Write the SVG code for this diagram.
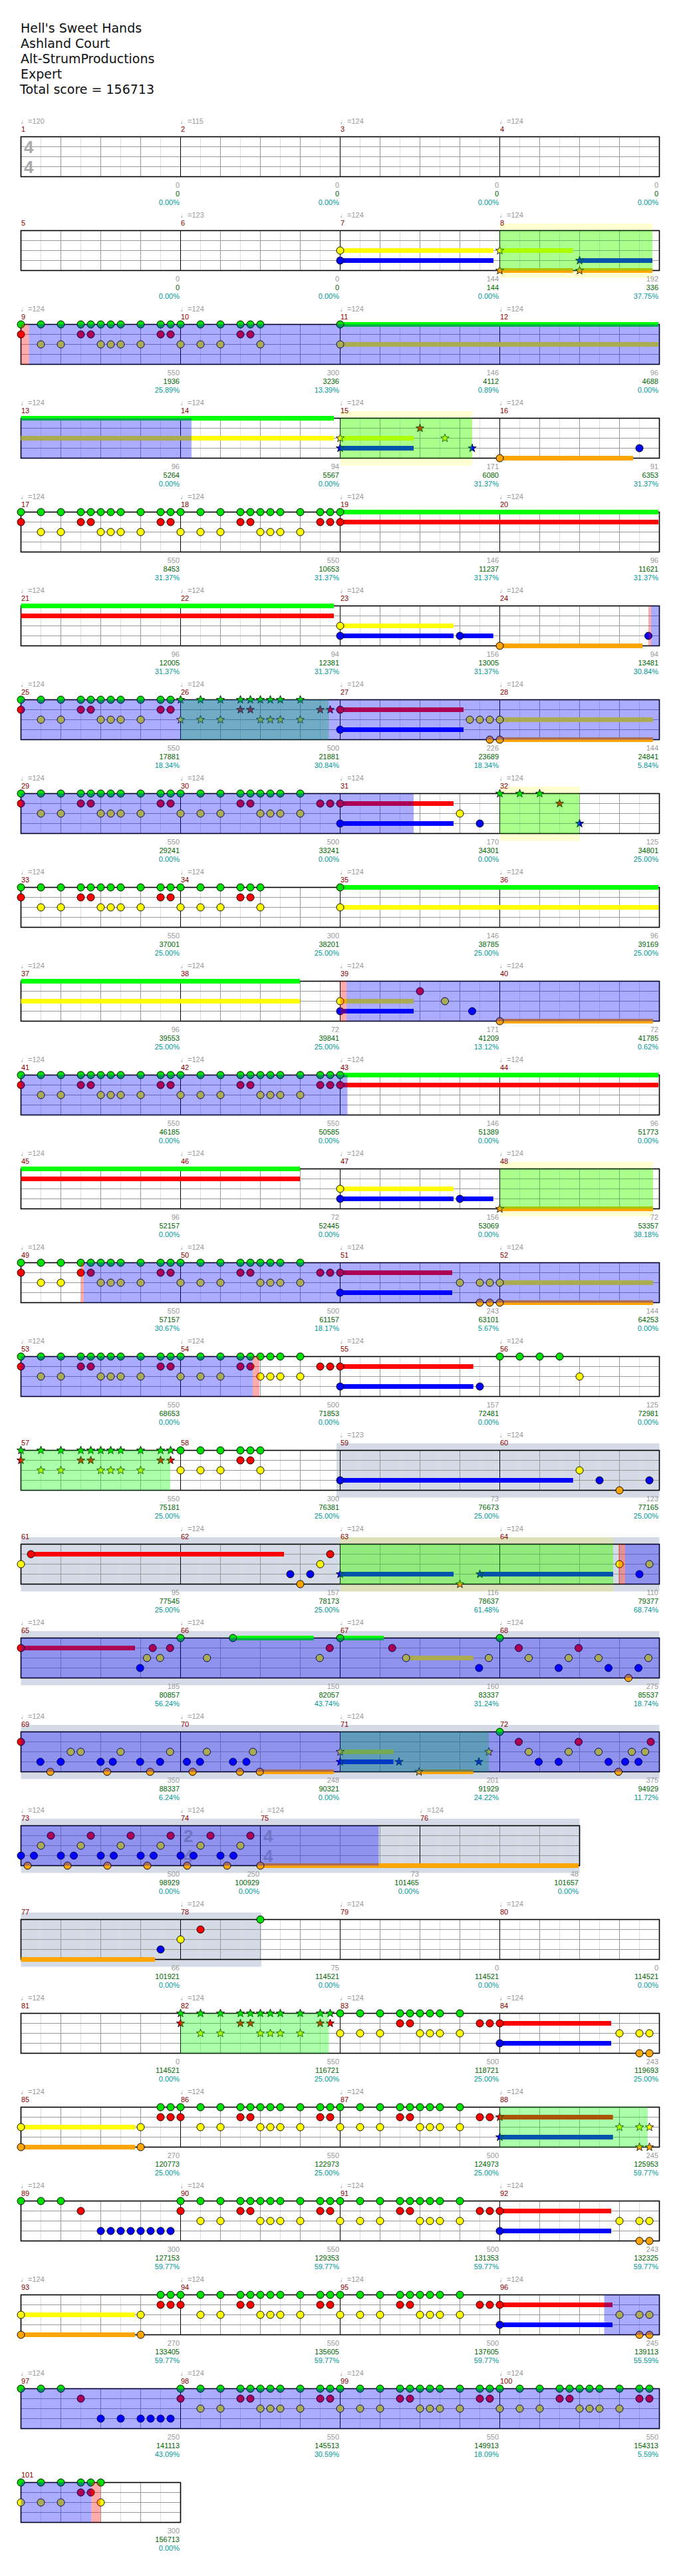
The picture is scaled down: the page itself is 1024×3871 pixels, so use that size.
<svg xmlns="http://www.w3.org/2000/svg" width="1024" height="3871" viewBox="0 0 1024 3871">
<style>
text{font-family:"Liberation Sans","DejaVu Sans",sans-serif;font-size:11px}
.ti{font:19px "DejaVu Sans",sans-serif;fill:#111}
.tp{fill:#999}
.mn{fill:#800}
.n1,.n2,.n3{text-anchor:end}
.n1{fill:#999}.n2{fill:#060}.n3{fill:#099}
.ts{font-size:26px;font-weight:bold;fill:#aaa}
.ml{stroke:#000;stroke-width:1;fill:none}
.bd{fill:none;stroke:#000;stroke-width:1.6}
circle{stroke:#000;stroke-width:1}
.g{fill:#00e000}.r{fill:#f00}.y{fill:#ff0}.b{fill:#00f}.o{fill:#ffa500}
.bG{fill:#0f0}.bR{fill:#f00}.bY{fill:#ff0}.bB{fill:#00f}.bO{fill:#ffa500}
.od{fill:#00f;fill-opacity:.33}.sp{fill:#0f0;fill-opacity:.33}.ac{fill:#f00;fill-opacity:.33}
.yb{fill:#ff0;fill-opacity:.18}.gb{fill:#d5dbe6}
</style>
<defs>
<path id="hl" d="M61.5 0V60M121.5 0V60M181.5 0V60M241.5 0V60M301.5 0V60M361.5 0V60M421.5 0V60M481.5 0V60M541.5 0V60M601.5 0V60M661.5 0V60M721.5 0V60M781.5 0V60M841.5 0V60M901.5 0V60M961.5 0V60" stroke="#ddd" fill="none"/>
<path id="bl" d="M91.5 0V60M151.5 0V60M211.5 0V60M331.5 0V60M391.5 0V60M451.5 0V60M571.5 0V60M631.5 0V60M691.5 0V60M811.5 0V60M871.5 0V60M931.5 0V60M31.5 15H991.5M31.5 30H991.5M31.5 45H991.5" stroke="#999" fill="none"/>
<path id="hl19" d="M61.5 0V60M121.5 0V60M181.5 0V60M241.5 0V60M301.5 0V60M361.5 0V60M421.5 0V60M481.5 0V60M541.5 0V60M601.5 0V60M661.5 0V60M721.5 0V60M781.5 0V60M841.5 0V60" stroke="#ddd" fill="none"/>
<path id="bl19" d="M91.5 0V60M151.5 0V60M211.5 0V60M331.5 0V60M451.5 0V60M511.5 0V60M571.5 0V60M691.5 0V60M751.5 0V60M811.5 0V60M31.5 15H871.5M31.5 30H871.5M31.5 45H871.5" stroke="#999" fill="none"/>
<path id="st" d="M0-6.5L1.59-2.18 6.18-2.01 2.57.83 3.82 5.26 0 2.7-3.82 5.26-2.57.83-6.18-2.01-1.59-2.18Z" stroke="#000" stroke-width=".8"/>
<g id="fGR" stroke="#000"><circle r="5.5" fill="#00e000"/><circle cy="15" r="5.5" fill="#f00"/></g>
<g id="fGY" stroke="#000"><circle r="5.5" fill="#00e000"/><circle cy="30" r="5.5" fill="#ff0"/></g>
<g id="core" stroke="#000">
<g fill="#00e000"><circle cx="30" r="5.5"/><circle cx="60" r="5.5"/><circle cx="90" r="5.5"/><circle cx="105" r="5.5"/><circle cx="120" r="5.5"/><circle cx="135" r="5.5"/><circle cx="150" r="5.5"/><circle cx="180" r="5.5"/></g>
<g fill="#f00"><circle cx="90" cy="15" r="5.5"/><circle cx="105" cy="15" r="5.5"/></g>
<g fill="#ff0"><circle cx="30" cy="30" r="5.5"/><circle cx="60" cy="30" r="5.5"/><circle cx="120" cy="30" r="5.5"/><circle cx="135" cy="30" r="5.5"/><circle cx="150" cy="30" r="5.5"/><circle cx="180" cy="30" r="5.5"/></g>
</g>
<g id="trunc" stroke="#000">
<g fill="#00e000"><circle cx="30" r="5.5"/><circle cx="60" r="5.5"/><circle cx="90" r="5.5"/><circle cx="105" r="5.5"/><circle cx="120" r="5.5"/></g>
<g fill="#f00"><circle cx="90" cy="15" r="5.5"/><circle cx="105" cy="15" r="5.5"/></g>
<g fill="#ff0"><circle cx="30" cy="30" r="5.5"/><circle cx="60" cy="30" r="5.5"/><circle cx="120" cy="30" r="5.5"/></g>
</g>
<g id="eGR" stroke="#000"><circle cx="210" r="5.5" fill="#00e000"/><circle cx="225" r="5.5" fill="#00e000"/><circle cx="210" cy="15" r="5.5" fill="#f00"/><circle cx="225" cy="15" r="5.5" fill="#f00"/></g>
<g id="eR" stroke="#000"><circle cx="210" cy="15" r="5.5" fill="#f00"/><circle cx="225" cy="15" r="5.5" fill="#f00"/></g>
<g id="sfGR"><use href="#st" fill="#00e000"/><use href="#st" y="15" fill="#f00"/></g>
<g id="sfGY"><use href="#st" fill="#00e000"/><use href="#st" y="30" fill="#ff0"/></g>
<g id="score">
<g fill="#00e000"><use href="#st" x="30"/><use href="#st" x="60"/><use href="#st" x="90"/><use href="#st" x="105"/><use href="#st" x="120"/><use href="#st" x="135"/><use href="#st" x="150"/><use href="#st" x="180"/></g>
<g fill="#f00"><use href="#st" x="90" y="15"/><use href="#st" x="105" y="15"/></g>
<g fill="#ff0"><use href="#st" x="30" y="30"/><use href="#st" x="60" y="30"/><use href="#st" x="120" y="30"/><use href="#st" x="135" y="30"/><use href="#st" x="150" y="30"/><use href="#st" x="180" y="30"/></g>
</g>
<g id="seGR"><use href="#st" x="210" fill="#00e000"/><use href="#st" x="225" fill="#00e000"/><use href="#st" x="210" y="15" fill="#f00"/><use href="#st" x="225" y="15" fill="#f00"/></g>
<g id="seR"><use href="#st" x="210" y="15" fill="#f00"/><use href="#st" x="225" y="15" fill="#f00"/></g>
</defs>
<rect width="1024" height="3871" fill="#fff"/>
<g id="title">
<text class="ti" x="31" y="49">Hell's Sweet Hands</text>
<text class="ti" x="31" y="72">Ashland Court</text>
<text class="ti" x="31" y="95">Alt-StrumProductions</text>
<text class="ti" x="31" y="118">Expert</text>
<text class="ti" x="30" y="141">Total score = 156713</text>
</g>
<g id="connectors"/>

<g id="row1" transform="translate(0,205.5)">
<use href="#hl"/><use href="#bl"/><path class="ml" d="M271.5 0V60M511.5 0V60M751.5 0V60"/><rect class="bd" x="31.5" width="960" height="60"/>
<text class="ts" x="36" y="24.6">4</text><text class="ts" x="36" y="54.1">4</text>
<text class="tp" y="-20"><tspan x="31">♩=120</tspan><tspan x="271">♩=115</tspan><tspan x="511">♩=124</tspan><tspan x="751">♩=124</tspan></text>
<text class="mn" y="-7.5"><tspan x="32">1</tspan><tspan x="272">2</tspan><tspan x="512">3</tspan><tspan x="752">4</tspan></text>
<text class="n1" y="76.5"><tspan x="270">0</tspan><tspan x="510">0</tspan><tspan x="750">0</tspan><tspan x="990">0</tspan></text>
<text class="n2" y="89.5"><tspan x="270">0</tspan><tspan x="510">0</tspan><tspan x="750">0</tspan><tspan x="990">0</tspan></text>
<text class="n3" y="102.5"><tspan x="270">0.00%</tspan><tspan x="510">0.00%</tspan><tspan x="750">0.00%</tspan><tspan x="990">0.00%</tspan></text>
</g>

<g id="row2" transform="translate(0,346.5)">
<rect class="yb" x="751.5" y="-10.5" width="229.5" height="81.5"/>
<use href="#hl"/><use href="#bl"/><path class="ml" d="M271.5 0V60M511.5 0V60M751.5 0V60"/><rect class="bd" x="31.5" width="960" height="60"/>
<rect class="bY" x="511.5" y="26.5" width="230.5" height="7"/><rect class="bB" x="511.5" y="41.5" width="230.5" height="7"/>
<rect class="bY" x="751.5" y="26.5" width="110.2" height="7"/><rect class="bO" x="751.5" y="56.5" width="110.2" height="7"/>
<rect class="bB" x="871.5" y="41.5" width="109.5" height="7"/><rect class="bO" x="871.5" y="56.5" width="109.5" height="7"/>
<circle class="y" cx="511.5" cy="30" r="5.5"/><circle class="b" cx="511.5" cy="45" r="5.5"/>
<use href="#st" class="y" x="751.5" y="30"/><use href="#st" class="o" x="751.5" y="60"/><use href="#st" class="b" x="871.5" y="45"/><use href="#st" class="o" x="871.5" y="60"/>
<rect class="sp" x="751.5" width="229.5" height="60"/>
<text class="tp" y="-20"><tspan x="271">♩=123</tspan><tspan x="511">♩=124</tspan><tspan x="751">♩=124</tspan></text>
<text class="mn" y="-7.5"><tspan x="32">5</tspan><tspan x="272">6</tspan><tspan x="512">7</tspan><tspan x="752">8</tspan></text>
<text class="n1" y="76.5"><tspan x="270">0</tspan><tspan x="510">0</tspan><tspan x="750">144</tspan><tspan x="990">192</tspan></text>
<text class="n2" y="89.5"><tspan x="270">0</tspan><tspan x="510">0</tspan><tspan x="750">144</tspan><tspan x="990">336</tspan></text>
<text class="n3" y="102.5"><tspan x="270">0.00%</tspan><tspan x="510">0.00%</tspan><tspan x="750">0.00%</tspan><tspan x="990">37.75%</tspan></text>
</g>

<g id="row3" transform="translate(0,487.5)">
<use href="#hl"/><use href="#bl"/><path class="ml" d="M271.5 0V60M511.5 0V60M751.5 0V60"/><rect class="bd" x="31.5" width="960" height="60"/>
<rect class="bG" x="511.5" y="-3.5" width="478.5" height="7"/><rect class="bY" x="511.5" y="26.5" width="478.5" height="7"/>
<use href="#fGR" x="31.5"/><use href="#core" x="31.5"/><use href="#eGR" x="31.5"/>
<use href="#fGY" x="271.5"/><use href="#trunc" x="271.5"/>
<circle class="g" cx="511.5" cy="0" r="5.5"/><circle class="y" cx="511.5" cy="30" r="5.5"/>
<rect class="ac" x="31.5" width="12" height="60"/><rect class="od" x="43.5" width="948" height="60"/>
<text class="tp" y="-20"><tspan x="31">♩=124</tspan><tspan x="271">♩=124</tspan><tspan x="511">♩=124</tspan><tspan x="751">♩=124</tspan></text>
<text class="mn" y="-7.5"><tspan x="32">9</tspan><tspan x="272">10</tspan><tspan x="512">11</tspan><tspan x="752">12</tspan></text>
<text class="n1" y="76.5"><tspan x="270">550</tspan><tspan x="510">300</tspan><tspan x="750">146</tspan><tspan x="990">96</tspan></text>
<text class="n2" y="89.5"><tspan x="270">1936</tspan><tspan x="510">3236</tspan><tspan x="750">4112</tspan><tspan x="990">4688</tspan></text>
<text class="n3" y="102.5"><tspan x="270">25.89%</tspan><tspan x="510">13.39%</tspan><tspan x="750">0.89%</tspan><tspan x="990">0.00%</tspan></text>
</g>

<g id="row4" transform="translate(0,628.5)">
<rect class="yb" x="511.5" y="-10.5" width="198.5" height="81.5"/>
<use href="#hl"/><use href="#bl"/><path class="ml" d="M271.5 0V60M511.5 0V60M751.5 0V60"/><rect class="bd" x="31.5" width="960" height="60"/>
<rect class="bG" x="31.5" y="-3.5" width="470.5" height="7"/><rect class="bY" x="31.5" y="26.5" width="470.5" height="7"/>
<rect class="bY" x="511.5" y="26.5" width="110.5" height="7"/><rect class="bB" x="511.5" y="41.5" width="110.5" height="7"/>
<rect class="bO" x="751.5" y="56.5" width="200.5" height="7"/>
<use href="#st" class="y" x="511.5" y="30"/><use href="#st" class="b" x="511.5" y="45"/><use href="#st" class="r" x="631.5" y="15"/><use href="#st" class="y" x="669" y="30"/><use href="#st" class="b" x="710" y="45"/>
<circle class="o" cx="751.5" cy="60" r="5.5"/><circle class="b" cx="961.5" cy="45" r="5.5"/>
<rect class="od" x="31.5" width="256.5" height="60"/><rect class="sp" x="511.5" width="198.5" height="60"/>
<text class="tp" y="-20"><tspan x="31">♩=124</tspan><tspan x="271">♩=124</tspan><tspan x="511">♩=124</tspan><tspan x="751">♩=124</tspan></text>
<text class="mn" y="-7.5"><tspan x="32">13</tspan><tspan x="272">14</tspan><tspan x="512">15</tspan><tspan x="752">16</tspan></text>
<text class="n1" y="76.5"><tspan x="270">96</tspan><tspan x="510">94</tspan><tspan x="750">171</tspan><tspan x="990">91</tspan></text>
<text class="n2" y="89.5"><tspan x="270">5264</tspan><tspan x="510">5567</tspan><tspan x="750">6080</tspan><tspan x="990">6353</tspan></text>
<text class="n3" y="102.5"><tspan x="270">0.00%</tspan><tspan x="510">0.00%</tspan><tspan x="750">31.37%</tspan><tspan x="990">31.37%</tspan></text>
</g>

<g id="row5" transform="translate(0,769.5)">
<use href="#hl"/><use href="#bl"/><path class="ml" d="M271.5 0V60M511.5 0V60M751.5 0V60"/><rect class="bd" x="31.5" width="960" height="60"/>
<rect class="bG" x="511.5" y="-3.5" width="478.5" height="7"/><rect class="bR" x="511.5" y="11.5" width="478.5" height="7"/>
<use href="#fGR" x="31.5"/><use href="#core" x="31.5"/><use href="#eGR" x="31.5"/>
<use href="#fGY" x="271.5"/><use href="#core" x="271.5"/><use href="#eGR" x="271.5"/>
<circle class="g" cx="511.5" cy="0" r="5.5"/><circle class="r" cx="511.5" cy="15" r="5.5"/>
<text class="tp" y="-20"><tspan x="31">♩=124</tspan><tspan x="271">♩=124</tspan><tspan x="511">♩=124</tspan><tspan x="751">♩=124</tspan></text>
<text class="mn" y="-7.5"><tspan x="32">17</tspan><tspan x="272">18</tspan><tspan x="512">19</tspan><tspan x="752">20</tspan></text>
<text class="n1" y="76.5"><tspan x="270">550</tspan><tspan x="510">550</tspan><tspan x="750">146</tspan><tspan x="990">96</tspan></text>
<text class="n2" y="89.5"><tspan x="270">8453</tspan><tspan x="510">10653</tspan><tspan x="750">11237</tspan><tspan x="990">11621</tspan></text>
<text class="n3" y="102.5"><tspan x="270">31.37%</tspan><tspan x="510">31.37%</tspan><tspan x="750">31.37%</tspan><tspan x="990">31.37%</tspan></text>
</g>

<g id="row6" transform="translate(0,910.5)">
<use href="#hl"/><use href="#bl"/><path class="ml" d="M271.5 0V60M511.5 0V60M751.5 0V60"/><rect class="bd" x="31.5" width="960" height="60"/>
<rect class="bG" x="31.5" y="-3.5" width="470.5" height="7"/><rect class="bR" x="31.5" y="11.5" width="470.5" height="7"/>
<rect class="bY" x="511.5" y="26.5" width="170.5" height="7"/><rect class="bB" x="511.5" y="41.5" width="170.5" height="7"/>
<rect class="bB" x="691.5" y="41.5" width="50.2" height="7"/><rect class="bO" x="751.5" y="56.5" width="214.5" height="7"/>
<circle class="y" cx="511.5" cy="30" r="5.5"/><circle class="b" cx="511.5" cy="45" r="5.5"/><circle class="b" cx="691.5" cy="45" r="5.5"/><circle class="o" cx="751.5" cy="60" r="5.5"/><circle class="b" cx="975" cy="45" r="5.5"/>
<rect class="ac" x="975" width="4" height="60"/><rect class="od" x="979" width="12.5" height="60"/>
<text class="tp" y="-20"><tspan x="31">♩=124</tspan><tspan x="271">♩=124</tspan><tspan x="511">♩=124</tspan><tspan x="751">♩=124</tspan></text>
<text class="mn" y="-7.5"><tspan x="32">21</tspan><tspan x="272">22</tspan><tspan x="512">23</tspan><tspan x="752">24</tspan></text>
<text class="n1" y="76.5"><tspan x="270">96</tspan><tspan x="510">94</tspan><tspan x="750">156</tspan><tspan x="990">94</tspan></text>
<text class="n2" y="89.5"><tspan x="270">12005</tspan><tspan x="510">12381</tspan><tspan x="750">13005</tspan><tspan x="990">13481</tspan></text>
<text class="n3" y="102.5"><tspan x="270">31.37%</tspan><tspan x="510">31.37%</tspan><tspan x="750">31.37%</tspan><tspan x="990">30.84%</tspan></text>
</g>

<g id="row7" transform="translate(0,1051.5)">
<use href="#hl"/><use href="#bl"/><path class="ml" d="M271.5 0V60M511.5 0V60M751.5 0V60"/><rect class="bd" x="31.5" width="960" height="60"/>
<rect class="bR" x="511.5" y="11.5" width="185.5" height="7"/><rect class="bB" x="511.5" y="41.5" width="185.5" height="7"/>
<rect class="bY" x="751.5" y="26.5" width="230.5" height="7"/><rect class="bO" x="751.5" y="56.5" width="230.5" height="7"/>
<use href="#fGR" x="31.5"/><use href="#core" x="31.5"/><use href="#eGR" x="31.5"/>
<use href="#sfGY" x="271.5"/><use href="#score" x="271.5"/><use href="#seR" x="271.5"/>
<circle class="r" cx="511.5" cy="15" r="5.5"/><circle class="b" cx="511.5" cy="45" r="5.5"/>
<circle class="y" cx="706.5" cy="30" r="5.5"/><circle class="y" cx="721.5" cy="30" r="5.5"/><circle class="y" cx="736.5" cy="30" r="5.5"/><circle class="y" cx="751.5" cy="30" r="5.5"/>
<circle class="o" cx="736.5" cy="60" r="5.5"/><circle class="o" cx="751.5" cy="60" r="5.5"/>
<rect class="sp" x="271.5" width="223" height="60"/><rect class="od" x="31.5" width="960" height="60"/>
<text class="tp" y="-20"><tspan x="31">♩=124</tspan><tspan x="271">♩=124</tspan><tspan x="511">♩=124</tspan><tspan x="751">♩=124</tspan></text>
<text class="mn" y="-7.5"><tspan x="32">25</tspan><tspan x="272">26</tspan><tspan x="512">27</tspan><tspan x="752">28</tspan></text>
<text class="n1" y="76.5"><tspan x="270">550</tspan><tspan x="510">500</tspan><tspan x="750">226</tspan><tspan x="990">144</tspan></text>
<text class="n2" y="89.5"><tspan x="270">17881</tspan><tspan x="510">21881</tspan><tspan x="750">23689</tspan><tspan x="990">24841</tspan></text>
<text class="n3" y="102.5"><tspan x="270">18.34%</tspan><tspan x="510">30.84%</tspan><tspan x="750">18.34%</tspan><tspan x="990">5.84%</tspan></text>
</g>

<g id="row8" transform="translate(0,1192.5)">
<rect class="yb" x="751.5" y="-10.5" width="120" height="81.5"/>
<use href="#hl"/><use href="#bl"/><path class="ml" d="M271.5 0V60M511.5 0V60M751.5 0V60"/><rect class="bd" x="31.5" width="960" height="60"/>
<rect class="bR" x="511.5" y="11.5" width="170.5" height="7"/><rect class="bB" x="511.5" y="41.5" width="170.5" height="7"/>
<use href="#fGR" x="31.5"/><use href="#core" x="31.5"/><use href="#eGR" x="31.5"/>
<use href="#fGY" x="271.5"/><use href="#core" x="271.5"/><use href="#eR" x="271.5"/>
<circle class="r" cx="511.5" cy="15" r="5.5"/><circle class="b" cx="511.5" cy="45" r="5.5"/><circle class="y" cx="691.5" cy="30" r="5.5"/><circle class="b" cx="721.5" cy="45" r="5.5"/>
<use href="#st" class="g" x="751.5" y="0"/><use href="#st" class="g" x="781.5" y="0"/><use href="#st" class="g" x="811.5" y="0"/><use href="#st" class="r" x="841.5" y="15"/><use href="#st" class="b" x="871.5" y="45"/>
<rect class="od" x="31.5" width="590.5" height="60"/><rect class="sp" x="751.5" width="120" height="60"/>
<text class="tp" y="-20"><tspan x="31">♩=124</tspan><tspan x="271">♩=124</tspan><tspan x="511">♩=124</tspan><tspan x="751">♩=124</tspan></text>
<text class="mn" y="-7.5"><tspan x="32">29</tspan><tspan x="272">30</tspan><tspan x="512">31</tspan><tspan x="752">32</tspan></text>
<text class="n1" y="76.5"><tspan x="270">550</tspan><tspan x="510">500</tspan><tspan x="750">170</tspan><tspan x="990">125</tspan></text>
<text class="n2" y="89.5"><tspan x="270">29241</tspan><tspan x="510">33241</tspan><tspan x="750">34301</tspan><tspan x="990">34801</tspan></text>
<text class="n3" y="102.5"><tspan x="270">0.00%</tspan><tspan x="510">0.00%</tspan><tspan x="750">0.00%</tspan><tspan x="990">25.00%</tspan></text>
</g>

<g id="row9" transform="translate(0,1333.5)">
<use href="#hl"/><use href="#bl"/><path class="ml" d="M271.5 0V60M511.5 0V60M751.5 0V60"/><rect class="bd" x="31.5" width="960" height="60"/>
<rect class="bG" x="511.5" y="-3.5" width="478.5" height="7"/><rect class="bY" x="511.5" y="26.5" width="478.5" height="7"/>
<use href="#fGR" x="31.5"/><use href="#core" x="31.5"/><use href="#eGR" x="31.5"/>
<use href="#fGY" x="271.5"/><use href="#trunc" x="271.5"/>
<circle class="g" cx="511.5" cy="0" r="5.5"/><circle class="y" cx="511.5" cy="30" r="5.5"/>
<text class="tp" y="-20"><tspan x="31">♩=124</tspan><tspan x="271">♩=124</tspan><tspan x="511">♩=124</tspan><tspan x="751">♩=124</tspan></text>
<text class="mn" y="-7.5"><tspan x="32">33</tspan><tspan x="272">34</tspan><tspan x="512">35</tspan><tspan x="752">36</tspan></text>
<text class="n1" y="76.5"><tspan x="270">550</tspan><tspan x="510">300</tspan><tspan x="750">146</tspan><tspan x="990">96</tspan></text>
<text class="n2" y="89.5"><tspan x="270">37001</tspan><tspan x="510">38201</tspan><tspan x="750">38785</tspan><tspan x="990">39169</tspan></text>
<text class="n3" y="102.5"><tspan x="270">25.00%</tspan><tspan x="510">25.00%</tspan><tspan x="750">25.00%</tspan><tspan x="990">25.00%</tspan></text>
</g>

<g id="row10" transform="translate(0,1474.5)">
<use href="#hl"/><use href="#bl"/><path class="ml" d="M271.5 0V60M511.5 0V60M751.5 0V60"/><rect class="bd" x="31.5" width="960" height="60"/>
<rect class="bG" x="31.5" y="-3.5" width="419.5" height="7"/><rect class="bY" x="31.5" y="26.5" width="419.5" height="7"/>
<rect class="bY" x="511.5" y="26.5" width="110.5" height="7"/><rect class="bB" x="511.5" y="41.5" width="110.5" height="7"/>
<rect class="bO" x="751.5" y="56.5" width="230.5" height="7"/>
<circle class="y" cx="511.5" cy="30" r="5.5"/><circle class="b" cx="511.5" cy="45" r="5.5"/><circle class="r" cx="631.5" cy="15" r="5.5"/><circle class="y" cx="669" cy="30" r="5.5"/><circle class="b" cx="710" cy="45" r="5.5"/><circle class="o" cx="751.5" cy="60" r="5.5"/>
<rect class="ac" x="511.5" width="9.5" height="60"/><rect class="od" x="521" width="470.5" height="60"/>
<text class="tp" y="-20"><tspan x="31">♩=124</tspan><tspan x="271">♩=124</tspan><tspan x="511">♩=124</tspan><tspan x="751">♩=124</tspan></text>
<text class="mn" y="-7.5"><tspan x="32">37</tspan><tspan x="272">38</tspan><tspan x="512">39</tspan><tspan x="752">40</tspan></text>
<text class="n1" y="76.5"><tspan x="270">96</tspan><tspan x="510">72</tspan><tspan x="750">171</tspan><tspan x="990">72</tspan></text>
<text class="n2" y="89.5"><tspan x="270">39553</tspan><tspan x="510">39841</tspan><tspan x="750">41209</tspan><tspan x="990">41785</tspan></text>
<text class="n3" y="102.5"><tspan x="270">25.00%</tspan><tspan x="510">25.00%</tspan><tspan x="750">13.12%</tspan><tspan x="990">0.62%</tspan></text>
</g>

<g id="row11" transform="translate(0,1615.5)">
<use href="#hl"/><use href="#bl"/><path class="ml" d="M271.5 0V60M511.5 0V60M751.5 0V60"/><rect class="bd" x="31.5" width="960" height="60"/>
<rect class="bG" x="511.5" y="-3.5" width="478.5" height="7"/><rect class="bR" x="511.5" y="11.5" width="478.5" height="7"/>
<use href="#fGR" x="31.5"/><use href="#core" x="31.5"/><use href="#eGR" x="31.5"/>
<use href="#fGY" x="271.5"/><use href="#core" x="271.5"/><use href="#eGR" x="271.5"/>
<circle class="g" cx="511.5" cy="0" r="5.5"/><circle class="r" cx="511.5" cy="15" r="5.5"/>
<rect class="od" x="31.5" width="491" height="60"/>
<text class="tp" y="-20"><tspan x="31">♩=124</tspan><tspan x="271">♩=124</tspan><tspan x="511">♩=124</tspan><tspan x="751">♩=124</tspan></text>
<text class="mn" y="-7.5"><tspan x="32">41</tspan><tspan x="272">42</tspan><tspan x="512">43</tspan><tspan x="752">44</tspan></text>
<text class="n1" y="76.5"><tspan x="270">550</tspan><tspan x="510">550</tspan><tspan x="750">146</tspan><tspan x="990">96</tspan></text>
<text class="n2" y="89.5"><tspan x="270">46185</tspan><tspan x="510">50585</tspan><tspan x="750">51389</tspan><tspan x="990">51773</tspan></text>
<text class="n3" y="102.5"><tspan x="270">0.00%</tspan><tspan x="510">0.00%</tspan><tspan x="750">0.00%</tspan><tspan x="990">0.00%</tspan></text>
</g>

<g id="row12" transform="translate(0,1756.5)">
<rect class="yb" x="751.5" y="-10.5" width="230.5" height="81.5"/>
<use href="#hl"/><use href="#bl"/><path class="ml" d="M271.5 0V60M511.5 0V60M751.5 0V60"/><rect class="bd" x="31.5" width="960" height="60"/>
<rect class="bG" x="31.5" y="-3.5" width="419.5" height="7"/><rect class="bR" x="31.5" y="11.5" width="419.5" height="7"/>
<rect class="bY" x="511.5" y="26.5" width="170.5" height="7"/><rect class="bB" x="511.5" y="41.5" width="170.5" height="7"/>
<rect class="bB" x="691.5" y="41.5" width="50.2" height="7"/><rect class="bO" x="751.5" y="56.5" width="230.5" height="7"/>
<circle class="y" cx="511.5" cy="30" r="5.5"/><circle class="b" cx="511.5" cy="45" r="5.5"/><circle class="b" cx="691.5" cy="45" r="5.5"/>
<use href="#st" class="o" x="751.5" y="60"/>
<rect class="sp" x="751.5" width="230.5" height="60"/>
<text class="tp" y="-20"><tspan x="31">♩=124</tspan><tspan x="271">♩=124</tspan><tspan x="511">♩=124</tspan><tspan x="751">♩=124</tspan></text>
<text class="mn" y="-7.5"><tspan x="32">45</tspan><tspan x="272">46</tspan><tspan x="512">47</tspan><tspan x="752">48</tspan></text>
<text class="n1" y="76.5"><tspan x="270">96</tspan><tspan x="510">72</tspan><tspan x="750">156</tspan><tspan x="990">72</tspan></text>
<text class="n2" y="89.5"><tspan x="270">52157</tspan><tspan x="510">52445</tspan><tspan x="750">53069</tspan><tspan x="990">53357</tspan></text>
<text class="n3" y="102.5"><tspan x="270">0.00%</tspan><tspan x="510">0.00%</tspan><tspan x="750">0.00%</tspan><tspan x="990">38.18%</tspan></text>
</g>

<g id="row13" transform="translate(0,1897.5)">
<use href="#hl"/><use href="#bl"/><path class="ml" d="M271.5 0V60M511.5 0V60M751.5 0V60"/><rect class="bd" x="31.5" width="960" height="60"/>
<rect class="bR" x="511.5" y="11.5" width="168.5" height="7"/><rect class="bB" x="511.5" y="41.5" width="168.5" height="7"/>
<rect class="bY" x="751.5" y="26.5" width="230.5" height="7"/><rect class="bO" x="751.5" y="56.5" width="230.5" height="7"/>
<use href="#fGR" x="31.5"/><use href="#core" x="31.5"/><use href="#eGR" x="31.5"/>
<use href="#fGY" x="271.5"/><use href="#core" x="271.5"/><use href="#eR" x="271.5"/>
<circle class="r" cx="511.5" cy="15" r="5.5"/><circle class="b" cx="511.5" cy="45" r="5.5"/>
<circle class="y" cx="691.5" cy="30" r="5.5"/><circle class="y" cx="721.5" cy="30" r="5.5"/><circle class="y" cx="736.5" cy="30" r="5.5"/><circle class="y" cx="751.5" cy="30" r="5.5"/>
<circle class="o" cx="721.5" cy="60" r="5.5"/><circle class="o" cx="736.5" cy="60" r="5.5"/><circle class="o" cx="751.5" cy="60" r="5.5"/>
<rect class="ac" x="121.5" width="4.5" height="60"/><rect class="od" x="126" width="865.5" height="60"/>
<text class="tp" y="-20"><tspan x="31">♩=124</tspan><tspan x="271">♩=124</tspan><tspan x="511">♩=124</tspan><tspan x="751">♩=124</tspan></text>
<text class="mn" y="-7.5"><tspan x="32">49</tspan><tspan x="272">50</tspan><tspan x="512">51</tspan><tspan x="752">52</tspan></text>
<text class="n1" y="76.5"><tspan x="270">550</tspan><tspan x="510">500</tspan><tspan x="750">243</tspan><tspan x="990">144</tspan></text>
<text class="n2" y="89.5"><tspan x="270">57157</tspan><tspan x="510">61157</tspan><tspan x="750">63101</tspan><tspan x="990">64253</tspan></text>
<text class="n3" y="102.5"><tspan x="270">30.67%</tspan><tspan x="510">18.17%</tspan><tspan x="750">5.67%</tspan><tspan x="990">0.00%</tspan></text>
</g>

<g id="row14" transform="translate(0,2038.5)">
<use href="#hl"/><use href="#bl"/><path class="ml" d="M271.5 0V60M511.5 0V60M751.5 0V60"/><rect class="bd" x="31.5" width="960" height="60"/>
<rect class="bR" x="511.5" y="11.5" width="200.2" height="7"/><rect class="bB" x="511.5" y="41.5" width="200.2" height="7"/>
<use href="#fGR" x="31.5"/><use href="#core" x="31.5"/><use href="#eGR" x="31.5"/>
<use href="#fGY" x="271.5"/><use href="#core" x="271.5"/><use href="#eR" x="271.5"/>
<circle class="r" cx="511.5" cy="15" r="5.5"/><circle class="b" cx="511.5" cy="45" r="5.5"/><circle class="b" cx="721.5" cy="45" r="5.5"/>
<circle class="g" cx="751.5" cy="0" r="5.5"/><circle class="g" cx="781.5" cy="0" r="5.5"/><circle class="g" cx="811.5" cy="0" r="5.5"/><circle class="g" cx="841.5" cy="0" r="5.5"/><circle class="y" cx="871.5" cy="30" r="5.5"/>
<rect class="od" x="31.5" width="348.5" height="60"/><rect class="ac" x="380" width="10" height="60"/>
<text class="tp" y="-20"><tspan x="31">♩=124</tspan><tspan x="271">♩=124</tspan><tspan x="511">♩=124</tspan><tspan x="751">♩=124</tspan></text>
<text class="mn" y="-7.5"><tspan x="32">53</tspan><tspan x="272">54</tspan><tspan x="512">55</tspan><tspan x="752">56</tspan></text>
<text class="n1" y="76.5"><tspan x="270">550</tspan><tspan x="510">500</tspan><tspan x="750">157</tspan><tspan x="990">125</tspan></text>
<text class="n2" y="89.5"><tspan x="270">68653</tspan><tspan x="510">71853</tspan><tspan x="750">72481</tspan><tspan x="990">72981</tspan></text>
<text class="n3" y="102.5"><tspan x="270">0.00%</tspan><tspan x="510">0.00%</tspan><tspan x="750">0.00%</tspan><tspan x="990">0.00%</tspan></text>
</g>

<g id="row15" transform="translate(0,2179.5)">
<rect class="gb" x="506" y="-10.5" width="485.5" height="81.5"/>
<use href="#hl"/><use href="#bl"/><path class="ml" d="M271.5 0V60M511.5 0V60M751.5 0V60"/><rect class="bd" x="31.5" width="960" height="60"/>
<rect class="bB" x="511.5" y="41.5" width="350.2" height="7"/>
<use href="#sfGR" x="31.5"/><use href="#score" x="31.5"/><use href="#seGR" x="31.5"/>
<use href="#fGY" x="271.5"/><use href="#trunc" x="271.5"/>
<circle class="b" cx="511.5" cy="45" r="5.5"/><circle class="y" cx="871.5" cy="30" r="5.5"/><circle class="b" cx="901.5" cy="45" r="5.5"/><circle class="o" cx="931.5" cy="60" r="5.5"/><circle class="b" cx="976.5" cy="45" r="5.5"/>
<rect class="sp" x="31.5" width="224.5" height="60"/>
<text class="tp" y="-20"><tspan x="511">♩=123</tspan><tspan x="751">♩=124</tspan></text>
<text class="mn" y="-7.5"><tspan x="32">57</tspan><tspan x="272">58</tspan><tspan x="512">59</tspan><tspan x="752">60</tspan></text>
<text class="n1" y="76.5"><tspan x="270">550</tspan><tspan x="510">300</tspan><tspan x="750">73</tspan><tspan x="990">123</tspan></text>
<text class="n2" y="89.5"><tspan x="270">75181</tspan><tspan x="510">76381</tspan><tspan x="750">76673</tspan><tspan x="990">77165</tspan></text>
<text class="n3" y="102.5"><tspan x="270">25.00%</tspan><tspan x="510">25.00%</tspan><tspan x="750">25.00%</tspan><tspan x="990">25.00%</tspan></text>
</g>

<g id="row16" transform="translate(0,2320.5)">
<rect class="gb" x="31.5" y="-10.5" width="960" height="81.5"/>
<rect class="yb" x="511.5" y="-10.5" width="410.5" height="81.5"/>
<use href="#hl"/><use href="#bl"/><path class="ml" d="M271.5 0V60M511.5 0V60M751.5 0V60"/><rect class="bd" x="31.5" width="960" height="60"/>
<rect class="bR" x="46.5" y="11.5" width="380.5" height="7"/><rect class="bB" x="511.5" y="41.5" width="170.5" height="7"/><rect class="bB" x="721.5" y="41.5" width="200.5" height="7"/>
<circle class="y" cx="31.5" cy="30" r="5.5"/><circle class="r" cx="46.5" cy="15" r="5.5"/><circle class="b" cx="436.5" cy="45" r="5.5"/><circle class="o" cx="451.5" cy="60" r="5.5"/><circle class="b" cx="466.5" cy="45" r="5.5"/><circle class="y" cx="481.5" cy="30" r="5.5"/><circle class="r" cx="496.5" cy="15" r="5.5"/>
<use href="#st" class="b" x="511.5" y="45"/><use href="#st" class="o" x="691.5" y="60"/><use href="#st" class="b" x="721.5" y="45"/>
<circle class="y" cx="931.5" cy="30" r="5.5"/><circle class="b" cx="961.5" cy="45" r="5.5"/><circle class="y" cx="976.5" cy="30" r="5.5"/>
<rect class="sp" x="511.5" width="410.5" height="60"/><rect class="ac" x="930" width="10" height="60"/><rect class="od" x="940" width="51.5" height="60"/>
<text class="tp" y="-20"><tspan x="271">♩=124</tspan><tspan x="511">♩=124</tspan><tspan x="751">♩=124</tspan></text>
<text class="mn" y="-7.5"><tspan x="32">61</tspan><tspan x="272">62</tspan><tspan x="512">63</tspan><tspan x="752">64</tspan></text>
<text class="n1" y="76.5"><tspan x="270">95</tspan><tspan x="510">157</tspan><tspan x="750">116</tspan><tspan x="990">110</tspan></text>
<text class="n2" y="89.5"><tspan x="270">77545</tspan><tspan x="510">78173</tspan><tspan x="750">78637</tspan><tspan x="990">79377</tspan></text>
<text class="n3" y="102.5"><tspan x="270">25.00%</tspan><tspan x="510">25.00%</tspan><tspan x="750">61.48%</tspan><tspan x="990">68.74%</tspan></text>
</g>

<g id="row17" transform="translate(0,2461.5)">
<rect class="gb" x="31.5" y="-10.5" width="960" height="81.5"/>
<use href="#hl"/><use href="#bl"/><path class="ml" d="M271.5 0V60M511.5 0V60M751.5 0V60"/><rect class="bd" x="31.5" width="960" height="60"/>
<rect class="bR" x="31.5" y="11.5" width="171.5" height="7"/><rect class="bG" x="350.3" y="-3.5" width="121.3" height="7"/><rect class="bG" x="511.5" y="-3.5" width="65.5" height="7"/><rect class="bY" x="610.6" y="26.5" width="101.1" height="7"/>
<circle class="r" cx="31.5" cy="15" r="5.5"/><circle class="b" cx="210.7" cy="45" r="5.5"/><circle class="y" cx="221" cy="30" r="5.5"/><circle class="r" cx="229.6" cy="15" r="5.5"/><circle class="y" cx="240.7" cy="30" r="5.5"/><circle class="r" cx="255.7" cy="15" r="5.5"/>
<circle class="g" cx="271.5" cy="0" r="5.5"/><circle class="y" cx="311.2" cy="30" r="5.5"/><circle class="g" cx="350.3" cy="0" r="5.5"/><circle class="y" cx="480.8" cy="30" r="5.5"/><circle class="r" cx="495.8" cy="15" r="5.5"/>
<circle class="g" cx="511.5" cy="0" r="5.5"/><circle class="r" cx="589.7" cy="15" r="5.5"/><circle class="y" cx="610.6" cy="30" r="5.5"/><circle class="b" cx="720.4" cy="45" r="5.5"/><circle class="y" cx="735" cy="30" r="5.5"/>
<circle class="g" cx="751.5" cy="0" r="5.5"/><circle class="r" cx="780" cy="15" r="5.5"/><circle class="y" cx="795" cy="30" r="5.5"/><circle class="b" cx="840" cy="45" r="5.5"/><circle class="y" cx="855" cy="30" r="5.5"/><circle class="r" cx="870" cy="15" r="5.5"/><circle class="y" cx="900" cy="30" r="5.5"/><circle class="b" cx="915" cy="45" r="5.5"/><circle class="o" cx="945" cy="60" r="5.5"/><circle class="b" cx="960" cy="45" r="5.5"/><circle class="y" cx="975" cy="30" r="5.5"/>
<rect class="od" x="31.5" width="960" height="60"/>
<text class="tp" y="-20"><tspan x="31">♩=124</tspan><tspan x="271">♩=124</tspan><tspan x="511">♩=124</tspan><tspan x="751">♩=124</tspan></text>
<text class="mn" y="-7.5"><tspan x="32">65</tspan><tspan x="272">66</tspan><tspan x="512">67</tspan><tspan x="752">68</tspan></text>
<text class="n1" y="76.5"><tspan x="270">185</tspan><tspan x="510">150</tspan><tspan x="750">160</tspan><tspan x="990">275</tspan></text>
<text class="n2" y="89.5"><tspan x="270">80857</tspan><tspan x="510">82057</tspan><tspan x="750">83337</tspan><tspan x="990">85537</tspan></text>
<text class="n3" y="102.5"><tspan x="270">56.24%</tspan><tspan x="510">43.74%</tspan><tspan x="750">31.24%</tspan><tspan x="990">18.74%</tspan></text>
</g>

<g id="row18" transform="translate(0,2602.5)">
<rect class="gb" x="31.5" y="-10.5" width="960" height="81.5"/>
<use href="#hl"/><use href="#bl"/><path class="ml" d="M271.5 0V60M511.5 0V60M751.5 0V60"/><rect class="bd" x="31.5" width="960" height="60"/>
<rect class="bO" x="390.7" y="56.5" width="111.3" height="7"/><rect class="bY" x="511.5" y="26.5" width="80.1" height="7"/><rect class="bB" x="511.5" y="41.5" width="80.1" height="7"/><rect class="bO" x="630" y="56.5" width="81.7" height="7"/>
<circle class="r" cx="31.5" cy="15" r="5.5"/><circle class="b" cx="60.7" cy="45" r="5.5"/><circle class="o" cx="75.7" cy="60" r="5.5"/><circle class="b" cx="91.3" cy="45" r="5.5"/><circle class="y" cx="106.3" cy="30" r="5.5"/><circle class="y" cx="121.3" cy="30" r="5.5"/>
<circle class="b" cx="151.3" cy="45" r="5.5"/><circle class="o" cx="161" cy="60" r="5.5"/><circle class="b" cx="169.6" cy="45" r="5.5"/><circle class="y" cx="181.3" cy="30" r="5.5"/><circle class="b" cx="210.7" cy="45" r="5.5"/><circle class="o" cx="225.7" cy="60" r="5.5"/><circle class="b" cx="240.7" cy="45" r="5.5"/><circle class="y" cx="255.7" cy="30" r="5.5"/>
<circle class="b" cx="281" cy="45" r="5.5"/><circle class="o" cx="289.6" cy="60" r="5.5"/><circle class="b" cx="300.7" cy="45" r="5.5"/><circle class="y" cx="311" cy="30" r="5.5"/><circle class="b" cx="350.3" cy="45" r="5.5"/><circle class="o" cx="360.7" cy="60" r="5.5"/><circle class="b" cx="370.5" cy="45" r="5.5"/><circle class="y" cx="380.3" cy="30" r="5.5"/><circle class="o" cx="390.7" cy="60" r="5.5"/>
<use href="#st" class="y" x="511.5" y="30"/><use href="#st" class="b" x="511.5" y="45"/><use href="#st" class="b" x="600" y="45"/><use href="#st" class="o" x="630" y="60"/><use href="#st" class="b" x="720" y="45"/><use href="#st" class="y" x="735" y="30"/>
<circle class="g" cx="751.5" cy="0" r="5.5"/><circle class="r" cx="780" cy="15" r="5.5"/><circle class="y" cx="795" cy="30" r="5.5"/><circle class="b" cx="810" cy="45" r="5.5"/><circle class="b" cx="840" cy="45" r="5.5"/><circle class="y" cx="855" cy="30" r="5.5"/><circle class="r" cx="870" cy="15" r="5.5"/><circle class="y" cx="900" cy="30" r="5.5"/><circle class="b" cx="915" cy="45" r="5.5"/><circle class="o" cx="930" cy="60" r="5.5"/><circle class="b" cx="940" cy="45" r="5.5"/><circle class="y" cx="950" cy="30" r="5.5"/><circle class="b" cx="960" cy="45" r="5.5"/><circle class="y" cx="970" cy="30" r="5.5"/><circle class="r" cx="978.5" cy="15" r="5.5"/>
<rect class="sp" x="511.5" width="223.5" height="60"/><rect class="od" x="31.5" width="960" height="60"/>
<text class="tp" y="-20"><tspan x="31">♩=124</tspan><tspan x="271">♩=124</tspan><tspan x="511">♩=124</tspan></text>
<text class="mn" y="-7.5"><tspan x="32">69</tspan><tspan x="272">70</tspan><tspan x="512">71</tspan><tspan x="752">72</tspan></text>
<text class="n1" y="76.5"><tspan x="270">350</tspan><tspan x="510">248</tspan><tspan x="750">201</tspan><tspan x="990">375</tspan></text>
<text class="n2" y="89.5"><tspan x="270">88337</tspan><tspan x="510">90321</tspan><tspan x="750">91929</tspan><tspan x="990">94929</tspan></text>
<text class="n3" y="102.5"><tspan x="270">6.24%</tspan><tspan x="510">0.00%</tspan><tspan x="750">24.22%</tspan><tspan x="990">11.72%</tspan></text>
</g>

<g id="row19" transform="translate(0,2743.5)">
<rect class="gb" x="31.5" y="-10.5" width="840" height="81.5"/>
<use href="#hl19"/><use href="#bl19"/><path class="ml" d="M271.5 0V60M391.5 0V60M631.5 0V60"/><rect class="bd" x="31.5" width="840" height="60"/>
<text class="ts" x="276" y="24.6">2</text><text class="ts" x="276" y="54.1">4</text>
<text class="ts" x="396" y="24.6">4</text><text class="ts" x="396" y="54.1">4</text>
<rect class="bO" x="391.5" y="56.5" width="478.5" height="7"/>
<g>
<circle class="b" cx="31.5" cy="45" r="5.5"/><circle class="o" cx="41.5" cy="60" r="5.5"/><circle class="b" cx="51" cy="45" r="5.5"/><circle class="y" cx="61.5" cy="30" r="5.5"/><circle class="r" cx="76.5" cy="15" r="5.5"/>
<circle class="b" cx="91.5" cy="45" r="5.5"/><circle class="o" cx="101.5" cy="60" r="5.5"/><circle class="b" cx="111" cy="45" r="5.5"/><circle class="y" cx="121.5" cy="30" r="5.5"/><circle class="r" cx="136.5" cy="15" r="5.5"/>
<circle class="b" cx="151.5" cy="45" r="5.5"/><circle class="o" cx="161.5" cy="60" r="5.5"/><circle class="b" cx="171" cy="45" r="5.5"/><circle class="y" cx="181.5" cy="30" r="5.5"/><circle class="r" cx="196.5" cy="15" r="5.5"/>
<circle class="b" cx="211.5" cy="45" r="5.5"/><circle class="o" cx="221.5" cy="60" r="5.5"/><circle class="b" cx="231" cy="45" r="5.5"/><circle class="y" cx="241.5" cy="30" r="5.5"/><circle class="r" cx="256.5" cy="15" r="5.5"/>
<circle class="b" cx="271.5" cy="45" r="5.5"/><circle class="o" cx="281.5" cy="60" r="5.5"/><circle class="b" cx="291" cy="45" r="5.5"/><circle class="y" cx="301.5" cy="30" r="5.5"/><circle class="r" cx="316.5" cy="15" r="5.5"/>
<circle class="b" cx="331.5" cy="45" r="5.5"/><circle class="o" cx="341.5" cy="60" r="5.5"/><circle class="b" cx="351" cy="45" r="5.5"/><circle class="y" cx="361.5" cy="30" r="5.5"/><circle class="r" cx="376.5" cy="15" r="5.5"/>
<circle class="o" cx="391.5" cy="60" r="5.5"/>
</g>
<rect class="od" x="31.5" width="538" height="60"/>
<text class="tp" y="-20"><tspan x="31">♩=124</tspan><tspan x="271">♩=124</tspan><tspan x="391">♩=124</tspan><tspan x="631">♩=124</tspan></text>
<text class="mn" y="-7.5"><tspan x="32">73</tspan><tspan x="272">74</tspan><tspan x="392">75</tspan><tspan x="632">76</tspan></text>
<text class="n1" y="76.5"><tspan x="270">500</tspan><tspan x="390">250</tspan><tspan x="630">73</tspan><tspan x="870">48</tspan></text>
<text class="n2" y="89.5"><tspan x="270">98929</tspan><tspan x="390">100929</tspan><tspan x="630">101465</tspan><tspan x="870">101657</tspan></text>
<text class="n3" y="102.5"><tspan x="270">0.00%</tspan><tspan x="390">0.00%</tspan><tspan x="630">0.00%</tspan><tspan x="870">0.00%</tspan></text>
</g>

<g id="row20" transform="translate(0,2884.5)">
<rect class="gb" x="31.5" y="-10.5" width="361.5" height="81.5"/>
<use href="#hl"/><use href="#bl"/><path class="ml" d="M271.5 0V60M511.5 0V60M751.5 0V60"/><rect class="bd" x="31.5" width="960" height="60"/>
<rect class="bO" x="31.5" y="56.5" width="201.5" height="7"/>
<circle class="b" cx="241.5" cy="45" r="5.5"/><circle class="y" cx="271.5" cy="30" r="5.5"/><circle class="r" cx="301.5" cy="15" r="5.5"/><circle class="g" cx="391.5" cy="0" r="5.5"/>
<text class="tp" y="-20"><tspan x="271">♩=124</tspan><tspan x="511">♩=124</tspan><tspan x="751">♩=124</tspan></text>
<text class="mn" y="-7.5"><tspan x="32">77</tspan><tspan x="272">78</tspan><tspan x="512">79</tspan><tspan x="752">80</tspan></text>
<text class="n1" y="76.5"><tspan x="270">66</tspan><tspan x="510">75</tspan><tspan x="750">0</tspan><tspan x="990">0</tspan></text>
<text class="n2" y="89.5"><tspan x="270">101921</tspan><tspan x="510">114521</tspan><tspan x="750">114521</tspan><tspan x="990">114521</tspan></text>
<text class="n3" y="102.5"><tspan x="270">0.00%</tspan><tspan x="510">0.00%</tspan><tspan x="750">0.00%</tspan><tspan x="990">0.00%</tspan></text>
</g>

<g id="row21" transform="translate(0,3025.5)">
<use href="#hl"/><use href="#bl"/><path class="ml" d="M271.5 0V60M511.5 0V60M751.5 0V60"/><rect class="bd" x="31.5" width="960" height="60"/>
<rect class="bR" x="751.5" y="11.5" width="167.5" height="7"/><rect class="bB" x="751.5" y="41.5" width="167.5" height="7"/>
<use href="#sfGR" x="271.5"/><use href="#score" x="271.5"/><use href="#seGR" x="271.5"/>
<use href="#fGY" x="511.5"/><use href="#core" x="511.5"/><use href="#eR" x="511.5"/>
<circle class="r" cx="751.5" cy="15" r="5.5"/><circle class="b" cx="751.5" cy="45" r="5.5"/><circle class="y" cx="931.5" cy="30" r="5.5"/><circle class="y" cx="961.5" cy="30" r="5.5"/><circle class="y" cx="976.5" cy="30" r="5.5"/><circle class="o" cx="961.5" cy="60" r="5.5"/><circle class="o" cx="976.5" cy="60" r="5.5"/>
<rect class="sp" x="271.5" width="223" height="60"/>
<text class="tp" y="-20"><tspan x="31">♩=124</tspan><tspan x="271">♩=124</tspan><tspan x="511">♩=124</tspan><tspan x="751">♩=124</tspan></text>
<text class="mn" y="-7.5"><tspan x="32">81</tspan><tspan x="272">82</tspan><tspan x="512">83</tspan><tspan x="752">84</tspan></text>
<text class="n1" y="76.5"><tspan x="270">0</tspan><tspan x="510">550</tspan><tspan x="750">500</tspan><tspan x="990">243</tspan></text>
<text class="n2" y="89.5"><tspan x="270">114521</tspan><tspan x="510">116721</tspan><tspan x="750">118721</tspan><tspan x="990">119693</tspan></text>
<text class="n3" y="102.5"><tspan x="270">0.00%</tspan><tspan x="510">25.00%</tspan><tspan x="750">25.00%</tspan><tspan x="990">25.00%</tspan></text>
</g>

<g id="row22" transform="translate(0,3166.5)">
<use href="#hl"/><use href="#bl"/><path class="ml" d="M271.5 0V60M511.5 0V60M751.5 0V60"/><rect class="bd" x="31.5" width="960" height="60"/>
<rect class="bY" x="31.5" y="26.5" width="171.5" height="7"/><rect class="bO" x="31.5" y="56.5" width="171.5" height="7"/>
<rect class="bR" x="751.5" y="11.5" width="170.2" height="7"/><rect class="bB" x="751.5" y="41.5" width="170.2" height="7"/>
<circle class="y" cx="31.5" cy="30" r="5.5"/><circle class="o" cx="31.5" cy="60" r="5.5"/><circle class="y" cx="211.5" cy="30" r="5.5"/><circle class="o" cx="211.5" cy="60" r="5.5"/>
<use href="#eGR" x="31.5"/>
<use href="#fGR" x="271.5"/><use href="#core" x="271.5"/><use href="#eGR" x="271.5"/>
<use href="#fGY" x="511.5"/><use href="#core" x="511.5"/><use href="#eR" x="511.5"/>
<use href="#st" class="r" x="751.5" y="15"/><use href="#st" class="b" x="751.5" y="45"/><use href="#st" class="y" x="931.5" y="30"/><use href="#st" class="y" x="961.5" y="30"/><use href="#st" class="y" x="976.5" y="30"/><use href="#st" class="o" x="961.5" y="60"/><use href="#st" class="o" x="976.5" y="60"/>
<rect class="sp" x="751.5" width="222.5" height="60"/>
<text class="tp" y="-20"><tspan x="31">♩=124</tspan><tspan x="271">♩=124</tspan><tspan x="511">♩=124</tspan><tspan x="751">♩=124</tspan></text>
<text class="mn" y="-7.5"><tspan x="32">85</tspan><tspan x="272">86</tspan><tspan x="512">87</tspan><tspan x="752">88</tspan></text>
<text class="n1" y="76.5"><tspan x="270">270</tspan><tspan x="510">550</tspan><tspan x="750">500</tspan><tspan x="990">245</tspan></text>
<text class="n2" y="89.5"><tspan x="270">120773</tspan><tspan x="510">122973</tspan><tspan x="750">124973</tspan><tspan x="990">125953</tspan></text>
<text class="n3" y="102.5"><tspan x="270">25.00%</tspan><tspan x="510">25.00%</tspan><tspan x="750">25.00%</tspan><tspan x="990">59.77%</tspan></text>
</g>

<g id="row23" transform="translate(0,3307.5)">
<use href="#hl"/><use href="#bl"/><path class="ml" d="M271.5 0V60M511.5 0V60M751.5 0V60"/><rect class="bd" x="31.5" width="960" height="60"/>
<rect class="bR" x="751.5" y="11.5" width="167.5" height="7"/><rect class="bB" x="751.5" y="41.5" width="167.5" height="7"/>
<circle class="g" cx="31.5" cy="0" r="5.5"/><circle class="g" cx="61.5" cy="0" r="5.5"/><circle class="g" cx="91.5" cy="0" r="5.5"/><circle class="r" cx="121.5" cy="15" r="5.5"/>
<circle class="b" cx="151.5" cy="45" r="5.5"/><circle class="b" cx="166.5" cy="45" r="5.5"/><circle class="b" cx="181.5" cy="45" r="5.5"/><circle class="b" cx="196.5" cy="45" r="5.5"/><circle class="b" cx="211.5" cy="45" r="5.5"/><circle class="b" cx="226.5" cy="45" r="5.5"/><circle class="b" cx="241.5" cy="45" r="5.5"/><circle class="b" cx="256.5" cy="45" r="5.5"/>
<use href="#fGR" x="271.5"/><use href="#core" x="271.5"/><use href="#eGR" x="271.5"/>
<use href="#fGY" x="511.5"/><use href="#core" x="511.5"/><use href="#eR" x="511.5"/>
<circle class="r" cx="751.5" cy="15" r="5.5"/><circle class="b" cx="751.5" cy="45" r="5.5"/><circle class="y" cx="931.5" cy="30" r="5.5"/><circle class="y" cx="961.5" cy="30" r="5.5"/><circle class="y" cx="976.5" cy="30" r="5.5"/><circle class="o" cx="961.5" cy="60" r="5.5"/><circle class="o" cx="976.5" cy="60" r="5.5"/>
<text class="tp" y="-20"><tspan x="31">♩=124</tspan><tspan x="271">♩=124</tspan><tspan x="511">♩=124</tspan><tspan x="751">♩=124</tspan></text>
<text class="mn" y="-7.5"><tspan x="32">89</tspan><tspan x="272">90</tspan><tspan x="512">91</tspan><tspan x="752">92</tspan></text>
<text class="n1" y="76.5"><tspan x="270">300</tspan><tspan x="510">550</tspan><tspan x="750">500</tspan><tspan x="990">243</tspan></text>
<text class="n2" y="89.5"><tspan x="270">127153</tspan><tspan x="510">129353</tspan><tspan x="750">131353</tspan><tspan x="990">132325</tspan></text>
<text class="n3" y="102.5"><tspan x="270">59.77%</tspan><tspan x="510">59.77%</tspan><tspan x="750">59.77%</tspan><tspan x="990">59.77%</tspan></text>
</g>

<g id="row24" transform="translate(0,3448.5)">
<use href="#hl"/><use href="#bl"/><path class="ml" d="M271.5 0V60M511.5 0V60M751.5 0V60"/><rect class="bd" x="31.5" width="960" height="60"/>
<rect class="bY" x="31.5" y="26.5" width="171.5" height="7"/><rect class="bO" x="31.5" y="56.5" width="171.5" height="7"/>
<rect class="bR" x="751.5" y="11.5" width="169.5" height="7"/><rect class="bB" x="751.5" y="41.5" width="169.5" height="7"/>
<circle class="y" cx="31.5" cy="30" r="5.5"/><circle class="o" cx="31.5" cy="60" r="5.5"/><circle class="y" cx="211.5" cy="30" r="5.5"/><circle class="o" cx="211.5" cy="60" r="5.5"/>
<use href="#eGR" x="31.5"/>
<use href="#fGR" x="271.5"/><use href="#core" x="271.5"/><use href="#eGR" x="271.5"/>
<use href="#fGY" x="511.5"/><use href="#core" x="511.5"/><use href="#eR" x="511.5"/>
<circle class="r" cx="751.5" cy="15" r="5.5"/><circle class="b" cx="751.5" cy="45" r="5.5"/><circle class="y" cx="931.5" cy="30" r="5.5"/><circle class="y" cx="961.5" cy="30" r="5.5"/><circle class="y" cx="976.5" cy="30" r="5.5"/><circle class="o" cx="961.5" cy="60" r="5.5"/><circle class="o" cx="976.5" cy="60" r="5.5"/>
<rect class="od" x="908.5" width="83" height="60"/>
<text class="tp" y="-20"><tspan x="31">♩=124</tspan><tspan x="271">♩=124</tspan><tspan x="511">♩=124</tspan><tspan x="751">♩=124</tspan></text>
<text class="mn" y="-7.5"><tspan x="32">93</tspan><tspan x="272">94</tspan><tspan x="512">95</tspan><tspan x="752">96</tspan></text>
<text class="n1" y="76.5"><tspan x="270">270</tspan><tspan x="510">550</tspan><tspan x="750">500</tspan><tspan x="990">245</tspan></text>
<text class="n2" y="89.5"><tspan x="270">133405</tspan><tspan x="510">135605</tspan><tspan x="750">137605</tspan><tspan x="990">139113</tspan></text>
<text class="n3" y="102.5"><tspan x="270">59.77%</tspan><tspan x="510">59.77%</tspan><tspan x="750">59.77%</tspan><tspan x="990">55.59%</tspan></text>
</g>

<g id="row25" transform="translate(0,3589.5)">
<use href="#hl"/><use href="#bl"/><path class="ml" d="M271.5 0V60M511.5 0V60M751.5 0V60"/><rect class="bd" x="31.5" width="960" height="60"/>
<circle class="g" cx="31.5" cy="0" r="5.5"/><circle class="g" cx="61.5" cy="0" r="5.5"/><circle class="g" cx="91.5" cy="0" r="5.5"/><circle class="r" cx="121.5" cy="15" r="5.5"/>
<circle class="b" cx="151.5" cy="45" r="5.5"/><circle class="b" cx="181.5" cy="45" r="5.5"/><circle class="b" cx="211.5" cy="45" r="5.5"/><circle class="b" cx="226.5" cy="45" r="5.5"/><circle class="b" cx="241.5" cy="45" r="5.5"/><circle class="b" cx="256.5" cy="45" r="5.5"/>
<use href="#fGR" x="271.5"/><use href="#core" x="271.5"/><use href="#eGR" x="271.5"/>
<use href="#fGY" x="511.5"/><use href="#core" x="511.5"/><use href="#eGR" x="511.5"/>
<use href="#fGY" x="751.5"/><use href="#core" x="751.5"/><use href="#eGR" x="751.5"/>
<rect class="od" x="31.5" width="960" height="60"/>
<text class="tp" y="-20"><tspan x="31">♩=124</tspan><tspan x="271">♩=124</tspan><tspan x="511">♩=124</tspan><tspan x="751">♩=124</tspan></text>
<text class="mn" y="-7.5"><tspan x="32">97</tspan><tspan x="272">98</tspan><tspan x="512">99</tspan><tspan x="752">100</tspan></text>
<text class="n1" y="76.5"><tspan x="270">250</tspan><tspan x="510">550</tspan><tspan x="750">550</tspan><tspan x="990">550</tspan></text>
<text class="n2" y="89.5"><tspan x="270">141113</tspan><tspan x="510">145513</tspan><tspan x="750">149913</tspan><tspan x="990">154313</tspan></text>
<text class="n3" y="102.5"><tspan x="270">43.09%</tspan><tspan x="510">30.59%</tspan><tspan x="750">18.09%</tspan><tspan x="990">5.59%</tspan></text>
</g>

<g id="row26" transform="translate(0,3730.5)">
<path d="M61.5 0V60M121.5 0V60M181.5 0V60M241.5 0V60" stroke="#ddd" fill="none"/>
<path d="M91.5 0V60M151.5 0V60M211.5 0V60M31.5 15H271.5M31.5 30H271.5M31.5 45H271.5" stroke="#999" fill="none"/>
<rect class="bd" x="31.5" width="240" height="60"/>
<use href="#fGY" x="31.5"/><use href="#trunc" x="31.5"/>
<rect class="od" x="31.5" width="106" height="60"/><rect class="ac" x="137.5" width="13.5" height="60"/>
<text class="mn" x="32" y="-7.5">101</text>
<text class="n1" x="270" y="76.5">300</text>
<text class="n2" x="270" y="89.5">156713</text>
<text class="n3" x="270" y="102.5">0.00%</text>
</g>
</svg>
